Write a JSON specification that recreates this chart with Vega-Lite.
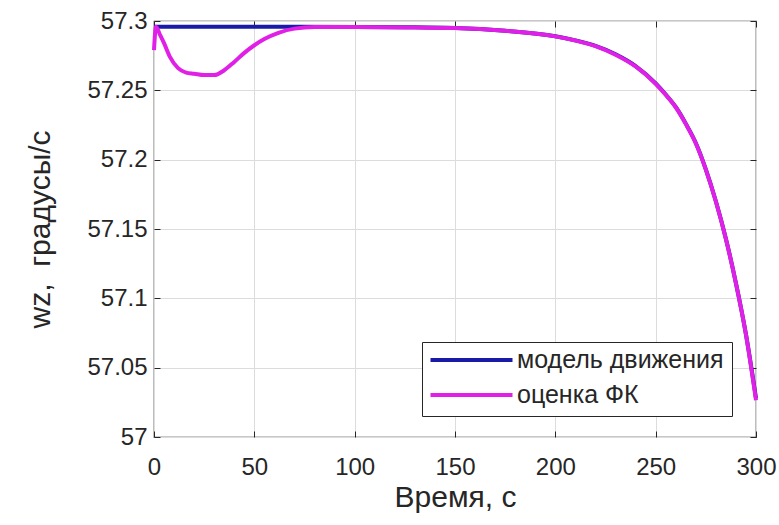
{
  "$schema": "https://vega.github.io/schema/vega-lite/v6.json",
  "width": 602,
  "height": 416,
  "autosize": "none",
  "padding": {"left": 154, "top": 21, "right": 23, "bottom": 88},
  "background": "white",
  "config": {
    "font": "Liberation Sans",
    "view": {"stroke": "#262626", "strokeWidth": 1.2},
    "axis": {
      "labelFont": "Liberation Sans",
      "titleFont": "Liberation Sans",
      "labelFontSize": 24,
      "titleFontSize": 30,
      "titleFontWeight": "normal",
      "labelColor": "#262626",
      "titleColor": "#262626",
      "gridColor": "#dcdcdc",
      "gridWidth": 1,
      "domain": false,
      "tickColor": "#262626",
      "tickSize": -6,
      "tickWidth": 1,
      "labelFlush": false
    }
  },
  "data": {
    "values": [
      {"t": 0, "v": 57.2958, "series": "модель движения"},
      {"t": 50, "v": 57.2958, "series": "модель движения"},
      {"t": 100, "v": 57.2957, "series": "модель движения"},
      {"t": 125, "v": 57.2955, "series": "модель движения"},
      {"t": 150, "v": 57.295, "series": "модель движения"},
      {"t": 175, "v": 57.293, "series": "модель движения"},
      {"t": 200, "v": 57.289, "series": "модель движения"},
      {"t": 210, "v": 57.286, "series": "модель движения"},
      {"t": 220, "v": 57.282, "series": "модель движения"},
      {"t": 230, "v": 57.276, "series": "модель движения"},
      {"t": 240, "v": 57.2675, "series": "модель движения"},
      {"t": 250, "v": 57.255, "series": "модель движения"},
      {"t": 255, "v": 57.247, "series": "модель движения"},
      {"t": 260, "v": 57.238, "series": "модель движения"},
      {"t": 265, "v": 57.226, "series": "модель движения"},
      {"t": 270, "v": 57.212, "series": "модель движения"},
      {"t": 275, "v": 57.193, "series": "модель движения"},
      {"t": 280, "v": 57.17, "series": "модель движения"},
      {"t": 285, "v": 57.143, "series": "модель движения"},
      {"t": 290, "v": 57.111, "series": "модель движения"},
      {"t": 295, "v": 57.074, "series": "модель движения"},
      {"t": 300, "v": 57.028, "series": "модель движения"},
      {"t": 0, "v": 57.279, "series": "оценка ФК"},
      {"t": 1, "v": 57.2958, "series": "оценка ФК"},
      {"t": 3, "v": 57.29, "series": "оценка ФК"},
      {"t": 5, "v": 57.284, "series": "оценка ФК"},
      {"t": 8, "v": 57.274, "series": "оценка ФК"},
      {"t": 12, "v": 57.266, "series": "оценка ФК"},
      {"t": 16, "v": 57.2628, "series": "оценка ФК"},
      {"t": 20, "v": 57.262, "series": "оценка ФК"},
      {"t": 25, "v": 57.261, "series": "оценка ФК"},
      {"t": 30, "v": 57.261, "series": "оценка ФК"},
      {"t": 35, "v": 57.2645, "series": "оценка ФК"},
      {"t": 40, "v": 57.2705, "series": "оценка ФК"},
      {"t": 45, "v": 57.277, "series": "оценка ФК"},
      {"t": 50, "v": 57.2825, "series": "оценка ФК"},
      {"t": 55, "v": 57.287, "series": "оценка ФК"},
      {"t": 62, "v": 57.2915, "series": "оценка ФК"},
      {"t": 70, "v": 57.2945, "series": "оценка ФК"},
      {"t": 80, "v": 57.2956, "series": "оценка ФК"},
      {"t": 100, "v": 57.2956, "series": "оценка ФК"},
      {"t": 125, "v": 57.2954, "series": "оценка ФК"},
      {"t": 150, "v": 57.2949, "series": "оценка ФК"},
      {"t": 175, "v": 57.2929, "series": "оценка ФК"},
      {"t": 200, "v": 57.2889, "series": "оценка ФК"},
      {"t": 210, "v": 57.2859, "series": "оценка ФК"},
      {"t": 220, "v": 57.2819, "series": "оценка ФК"},
      {"t": 230, "v": 57.2757, "series": "оценка ФК"},
      {"t": 240, "v": 57.2672, "series": "оценка ФК"},
      {"t": 250, "v": 57.2547, "series": "оценка ФК"},
      {"t": 255, "v": 57.2468, "series": "оценка ФК"},
      {"t": 260, "v": 57.2378, "series": "оценка ФК"},
      {"t": 265, "v": 57.2258, "series": "оценка ФК"},
      {"t": 270, "v": 57.2118, "series": "оценка ФК"},
      {"t": 275, "v": 57.1928, "series": "оценка ФК"},
      {"t": 280, "v": 57.1698, "series": "оценка ФК"},
      {"t": 285, "v": 57.1428, "series": "оценка ФК"},
      {"t": 290, "v": 57.1108, "series": "оценка ФК"},
      {"t": 295, "v": 57.0738, "series": "оценка ФК"},
      {"t": 300, "v": 57.0265, "series": "оценка ФК"}
    ]
  },
  "resolve": {"axis": {"x": "independent", "y": "independent"}},
  "layer": [
    {
      "mark": {"type": "line", "strokeWidth": 4, "interpolate": "monotone"},
      "encoding": {
        "x": {
          "field": "t", "type": "quantitative",
          "scale": {"domain": [0, 300], "nice": false},
          "axis": {"values": [0, 50, 100, 150, 200, 250, 300], "title": "Время, с", "labelPadding": 24, "titlePadding": 3, "orient": "bottom"}
        },
        "y": {
          "field": "v", "type": "quantitative",
          "scale": {"domain": [57, 57.3], "nice": false, "zero": false},
          "axis": {"values": [57, 57.05, 57.1, 57.15, 57.2, 57.25, 57.3], "format": ".6~g", "title": "wz,\u00a0 градусы/с", "labelPadding": 13, "titlePadding": 31, "orient": "left"}
        },
        "color": {
          "field": "series", "type": "nominal",
          "scale": {"domain": ["модель движения", "оценка ФК"], "range": ["#1a1aa8", "#e020e6"]},
          "legend": {
            "orient": "none", "legendX": 268, "legendY": 321, "title": null,
            "symbolType": "M-4.1,0H4.1", "symbolSize": 400, "symbolStrokeWidth": 4, "symbolOffset": 29,
            "clipHeight": 20, "rowPadding": 10,
            "labelFontSize": 25, "labelFont": "Liberation Sans", "labelColor": "#262626", "labelOffset": 33, "labelLimit": 400,
            "strokeColor": "#262626", "fillColor": "white", "padding": 8
          }
        }
      }
    },
    {
      "mark": {"type": "line", "opacity": 0},
      "encoding": {
        "x": {"field": "t", "type": "quantitative", "axis": {"orient": "top", "values": [0, 50, 100, 150, 200, 250, 300], "labels": false, "title": null, "grid": false}},
        "y": {"field": "v", "type": "quantitative", "axis": {"orient": "right", "values": [57, 57.05, 57.1, 57.15, 57.2, 57.25, 57.3], "labels": false, "title": null, "grid": false}}
      }
    }
  ]
}
